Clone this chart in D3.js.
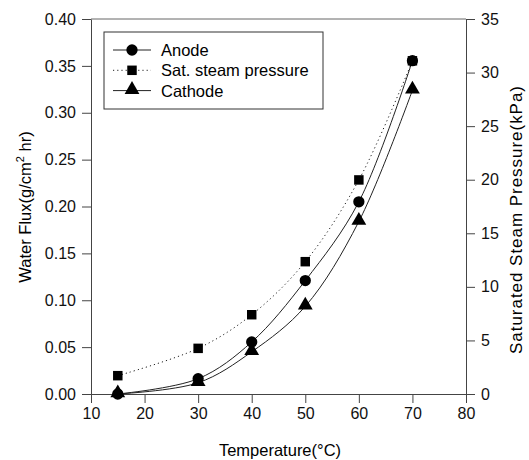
<!DOCTYPE html>
<html><head><meta charset="utf-8">
<script src="https://cdn.jsdelivr.net/npm/d3@7"></script>
<style>body{margin:0;background:#fff}svg{display:block}text{font-family:"Liberation Sans",Arial,sans-serif}</style>
</head><body><svg id="c" width="529" height="460"></svg>
<script>
const temps = [15, 30, 40, 50, 60, 70];
const anode = [0.0, 0.0163, 0.0555, 0.121, 0.205, 0.3555];
const steam = [1.71, 4.26, 7.4, 12.35, 19.98, 31.1];
const cathode = [0.0, 0.012, 0.045, 0.0935, 0.184, 0.324];
const xTicks = [10, 20, 30, 40, 50, 60, 70, 80];
const yTicks = [0, 0.05, 0.10, 0.15, 0.20, 0.25, 0.30, 0.35, 0.40];
const y2Ticks = [0, 5, 10, 15, 20, 25, 30, 35];

const svg = d3.select("#c");
const L = 91, R = 466, T = 19, B = 394;
const x = d3.scaleLinear().domain([10, 80]).range([L, R]);
const y = d3.scaleLinear().domain([0, 0.4]).range([B, T]);
const y2 = d3.scaleLinear().domain([0, 35]).range([B, T]);
const axisColor = "#444";
const FS = 16, TS = 16.5;

svg.append("line").attr("x1", L).attr("x2", R).attr("y1", T).attr("y2", T).attr("stroke", "#666").attr("stroke-width", 1);

function styleAxis(g) {
  g.selectAll("path").attr("stroke", axisColor);
  g.selectAll("line").attr("stroke", axisColor);
  g.selectAll("text").attr("font-size", FS).attr("fill", "#111").attr("font-family", '"Liberation Sans",Arial,sans-serif');
}
const gx = svg.append("g").attr("transform", `translate(0,${B})`)
  .call(d3.axisBottom(x).tickValues(xTicks).tickSize(9).tickPadding(5).tickSizeOuter(0));
styleAxis(gx);
const gy = svg.append("g").attr("transform", `translate(${L},0)`)
  .call(d3.axisLeft(y).tickValues(yTicks).tickFormat(d3.format(".2f")).tickSize(9).tickPadding(6).tickSizeOuter(0));
styleAxis(gy);
const gy2 = svg.append("g").attr("transform", `translate(${R},0)`)
  .call(d3.axisRight(y2).tickValues(y2Ticks).tickSize(9).tickPadding(6).tickSizeOuter(0));
styleAxis(gy2);

svg.append("text").attr("x", 280).attr("y", 456).attr("text-anchor", "middle").attr("font-size", TS).text("Temperature(\u00B0C)");
const lt = svg.append("text").attr("transform", "translate(31,207) rotate(-90)").attr("text-anchor", "middle").attr("font-size", TS);
lt.append("tspan").text("Water Flux(g/cm");
lt.append("tspan").attr("font-size", 11).attr("dy", -7).text("2");
lt.append("tspan").attr("dy", 7).text(" hr)");
svg.append("text").attr("transform", "translate(522,220) rotate(-90)").attr("text-anchor", "middle").attr("font-size", 17)
  .attr("textLength", 268).attr("lengthAdjust", "spacing").text("Saturated Steam Pressure(kPa)");

const curve = d3.curveCatmullRom.alpha(0.5);
const lineL = d3.line().x((d, i) => x(temps[i])).y(d => y(d)).curve(curve);
const lineR = d3.line().x((d, i) => x(temps[i])).y(d => y2(d)).curve(curve);
svg.append("path").attr("d", lineR(steam)).attr("fill", "none").attr("stroke", "#222").attr("stroke-width", 1).attr("stroke-dasharray", "1.2,3");
svg.append("path").attr("d", lineL(anode)).attr("fill", "none").attr("stroke", "#222").attr("stroke-width", 1);
svg.append("path").attr("d", lineL(cathode)).attr("fill", "none").attr("stroke", "#222").attr("stroke-width", 1);

const circ = d3.symbol().type(d3.symbolCircle).size(100);
const sq = d3.symbol().type(d3.symbolSquare).size(90);
const tri = d3.symbol().type(d3.symbolTriangle).size(95);
svg.selectAll(".sq").data(steam).join("path").attr("d", sq).attr("transform", (d, i) => `translate(${x(temps[i])},${y2(d)})`).attr("fill", "#000");
svg.selectAll(".ci").data(anode).join("path").attr("d", circ).attr("transform", (d, i) => `translate(${x(temps[i])},${y(d)})`).attr("fill", "#000");
svg.selectAll(".tr").data(cathode).join("path").attr("d", tri).attr("transform", (d, i) => `translate(${x(temps[i])},${y(d) - 1})`).attr("fill", "#000");

const lg = svg.append("g");
lg.append("rect").attr("x", 104).attr("y", 32).attr("width", 219).attr("height", 77).attr("fill", "#fff").attr("stroke", "#333").attr("stroke-width", 1);
const items = [["Anode", circ, null], ["Sat. steam pressure", sq, "1.2,3"], ["Cathode", tri, null]];
items.forEach((it, i) => {
  const yy = 50 + i * 20.3;
  lg.append("line").attr("x1", 113).attr("x2", 151).attr("y1", yy).attr("y2", yy).attr("stroke", "#222").attr("stroke-dasharray", it[2]);
  lg.append("path").attr("d", it[1]).attr("transform", `translate(132,${yy - (i === 2 ? 1 : 0)})`).attr("fill", "#000");
  lg.append("text").attr("x", 161).attr("y", yy + 6).attr("font-size", TS).text(it[0]);
});
</script></body></html>
